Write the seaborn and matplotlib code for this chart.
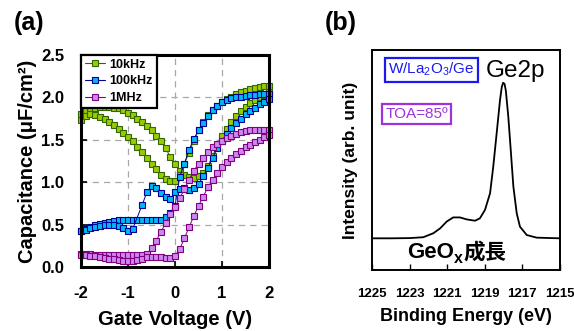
import pandas as pd
import matplotlib
matplotlib.use('Agg')
import matplotlib.pyplot as plt
import seaborn as sns
from matplotlib.lines import Line2D

# ---- (a) C-V data: two sweeps per frequency ----
volts = [-2.0, -1.9, -1.8, -1.7, -1.6, -1.5, -1.4, -1.3, -1.2, -1.1, -1.0,
         -0.9, -0.8, -0.7, -0.6, -0.5, -0.4, -0.3, -0.2, -0.1, 0.0,
         0.1, 0.2, 0.3, 0.4, 0.5, 0.6, 0.7, 0.8, 0.9, 1.0,
         1.1, 1.2, 1.3, 1.4, 1.5, 1.6, 1.7, 1.8, 1.9, 2.0]
# 100kHz second sweep has no point at -0.8 V
volts_gap = [-2.0, -1.9, -1.8, -1.7, -1.6, -1.5, -1.4, -1.3, -1.2, -1.1, -1.0,
             -0.9, -0.7, -0.6, -0.5, -0.4, -0.3, -0.2, -0.1, 0.0,
             0.1, 0.2, 0.3, 0.4, 0.5, 0.6, 0.7, 0.8, 0.9, 1.0,
             1.1, 1.2, 1.3, 1.4, 1.5, 1.6, 1.7, 1.8, 1.9, 2.0]

c_10k_a = [1.81, 1.85, 1.87, 1.88, 1.89, 1.89, 1.89, 1.88, 1.87, 1.85, 1.82,
           1.79, 1.75, 1.71, 1.66, 1.61, 1.55, 1.48, 1.40, 1.30, 1.21,
           1.13, 1.08, 1.06, 1.05, 1.07, 1.11, 1.19, 1.31, 1.43, 1.54,
           1.63, 1.71, 1.78, 1.84, 1.89, 1.93, 1.97, 2.00, 2.03, 2.06]
c_10k_b = [1.73, 1.78, 1.80, 1.79, 1.77, 1.74, 1.71, 1.67, 1.63, 1.58, 1.53,
           1.48, 1.42, 1.36, 1.29, 1.22, 1.15, 1.09, 1.04, 1.01, 1.01,
           1.08, 1.22, 1.35, 1.49, 1.61, 1.71, 1.79, 1.85, 1.90, 1.94,
           1.98, 2.01, 2.04, 2.06, 2.08, 2.10, 2.11, 2.12, 2.13, 2.14]
c_100k_a = [0.43, 0.45, 0.47, 0.49, 0.51, 0.52, 0.53, 0.54, 0.55, 0.55, 0.55,
            0.55, 0.56, 0.56, 0.56, 0.55, 0.55, 0.56, 0.59, 0.64, 0.72,
            1.06, 1.22, 1.38, 1.51, 1.61, 1.70, 1.78, 1.85, 1.90, 1.94,
            1.97, 1.99, 2.00, 2.01, 2.02, 2.03, 2.03, 2.04, 2.04, 2.04]
c_100k_b = [0.43, 0.44, 0.46, 0.47, 0.48, 0.49, 0.49, 0.49, 0.48, 0.46, 0.43,
            0.45, 0.73, 0.88, 0.95, 0.93, 0.87, 0.82, 0.80, 0.88,
            0.92, 0.93, 0.91, 0.93, 0.98, 1.07, 1.17, 1.29, 1.40, 1.49,
            1.57, 1.64, 1.70, 1.75, 1.80, 1.84, 1.88, 1.92, 1.95, 1.98]
c_1m_a = [0.15, 0.15, 0.15, 0.14, 0.14, 0.14, 0.14, 0.14, 0.14, 0.14, 0.14,
          0.14, 0.14, 0.14, 0.15, 0.22, 0.31, 0.41, 0.52, 0.62, 0.71,
          0.81, 0.92, 1.03, 1.13, 1.22, 1.29, 1.36, 1.41, 1.45, 1.49,
          1.52, 1.55, 1.57, 1.59, 1.60, 1.61, 1.61, 1.62, 1.62, 1.62]
c_1m_b = [0.14, 0.14, 0.13, 0.13, 0.12, 0.11, 0.10, 0.09, 0.08, 0.07, 0.065,
          0.07, 0.08, 0.10, 0.12, 0.12, 0.12, 0.12, 0.11, 0.11, 0.13,
          0.21, 0.34, 0.47, 0.60, 0.72, 0.83, 0.94, 1.03, 1.11, 1.18,
          1.24, 1.29, 1.33, 1.37, 1.41, 1.44, 1.47, 1.50, 1.53, 1.56]

freq_labels = ['10kHz', '100kHz', '1MHz']

# ---- (b) Ge2p spectrum ----
energy = [1225.0, 1224.0, 1223.0, 1222.27, 1221.74, 1221.38, 1221.03, 1220.68,
          1220.32, 1219.96, 1219.52, 1219.26, 1218.99, 1218.72, 1218.55, 1218.37,
          1218.19, 1218.10, 1218.03, 1217.95, 1217.88, 1217.75, 1217.62, 1217.48,
          1217.30, 1217.13, 1216.77, 1216.24, 1215.0]
intensity = [0.144, 0.144, 0.145, 0.149, 0.167, 0.189, 0.220, 0.239,
             0.239, 0.230, 0.224, 0.235, 0.273, 0.349, 0.470, 0.621,
             0.773, 0.830, 0.851, 0.846, 0.815, 0.697, 0.545, 0.379,
             0.257, 0.197, 0.159, 0.147, 0.144]
energy_ticks = [1225, 1223, 1221, 1219, 1217, 1215]

sns.set_style('ticks')
plt.rcParams['font.family'] = ['Liberation Sans', 'DejaVu Sans']
plt.rcParams['mathtext.fontset'] = 'custom'
plt.rcParams['mathtext.rm'] = 'Liberation Sans'
plt.rcParams['mathtext.it'] = 'Liberation Sans:italic'
plt.rcParams['mathtext.bf'] = 'Liberation Sans:bold'
plt.rcParams['axes.unicode_minus'] = False
for key in ['text.color', 'axes.labelcolor', 'xtick.color', 'ytick.color']:
    plt.rcParams[key] = 'black'

cv = pd.concat([
    pd.DataFrame({'V': volts, 'C': c_10k_a, 'freq': '10kHz', 'sweep': 0}),
    pd.DataFrame({'V': volts, 'C': c_10k_b, 'freq': '10kHz', 'sweep': 1}),
    pd.DataFrame({'V': volts, 'C': c_100k_a, 'freq': '100kHz', 'sweep': 0}),
    pd.DataFrame({'V': volts_gap, 'C': c_100k_b, 'freq': '100kHz', 'sweep': 1}),
    pd.DataFrame({'V': volts, 'C': c_1m_a, 'freq': '1MHz', 'sweep': 0}),
    pd.DataFrame({'V': volts, 'C': c_1m_b, 'freq': '1MHz', 'sweep': 1}),
], ignore_index=True)

fills = {'10kHz': '#99cc00', '100kHz': '#00b8f0', '1MHz': '#cc88ee'}
edges = {'10kHz': '#336600', '100kHz': '#000099', '1MHz': '#800080'}

fig = plt.figure(figsize=(5.74, 3.31), dpi=100)
ax1 = fig.add_axes([81 / 574, 64 / 331, 188 / 574, 212 / 331])
ax2 = fig.add_axes([372 / 574, 61 / 331, 188 / 574, 220 / 331])

# panel (a)
for f in freq_labels:
    sns.lineplot(data=cv[cv['freq'] == f], x='V', y='C', units='sweep',
                 estimator=None, sort=False, ax=ax1, color=edges[f], lw=0.7,
                 marker='s', markersize=4.8, markerfacecolor=fills[f],
                 markeredgecolor=edges[f], markeredgewidth=0.8,
                 clip_on=False, legend=False, zorder=3)

ax1.set_xlim(-2, 2)
ax1.set_ylim(0, 2.5)
ax1.set_xticks([-2, -1, 0, 1, 2])
ax1.set_yticks([0, 0.5, 1.0, 1.5, 2.0, 2.5])
ax1.set_yticklabels(['0.0', '0.5', '1.0', '1.5', '2.0', '2.5'])
ax1.grid(True, ls=(0, (5, 4)), color='#a8a8a8', lw=0.9)
ax1.tick_params(direction='in', length=4, width=1.2, labelsize=12)
ax1.tick_params(axis='x', pad=14)
ax1.tick_params(axis='y', pad=12)
for lab in ax1.get_xticklabels() + ax1.get_yticklabels():
    lab.set_fontweight('bold')
for s in ax1.spines.values():
    s.set_linewidth(2.2)
    s.set_color('black')
    s.set_zorder(4)
ax1.set_xlabel('Gate Voltage (V)', fontsize=14.5, fontweight='bold', labelpad=6)
ax1.set_ylabel('Capacitance (μF/cm²)', fontsize=14.5, fontweight='bold', labelpad=3)

handles = [Line2D([], [], color=edges[f], lw=0.8, marker='s', ms=4.8,
                  mfc=fills[f], mec=edges[f], mew=0.8) for f in freq_labels]
leg = ax1.legend(handles, freq_labels, loc='upper left', bbox_to_anchor=(0, 1),
                 borderaxespad=0, fancybox=False, framealpha=1, edgecolor='black',
                 prop={'weight': 'bold', 'size': 9}, handlelength=1.6,
                 labelspacing=0.38, borderpad=0.3, handletextpad=0.4)
leg.get_frame().set_linewidth(1.6)
leg.set_zorder(5)

fig.text(14 / 574, 1 - 23 / 331, '(a)', fontsize=18, fontweight='bold',
         ha='left', va='center')
fig.text(325 / 574, 1 - 23 / 331, '(b)', fontsize=18, fontweight='bold',
         ha='left', va='center')

# panel (b)
sns.lineplot(x=energy, y=intensity, sort=False, ax=ax2, color='black', lw=1.3)
ax2.set_xlim(1225, 1215)
ax2.set_ylim(0, 1)
ax2.set_xticks(energy_ticks)
ax2.set_xticklabels([str(e) for e in energy_ticks], fontweight='bold')
ax2.set_yticks([])
ax2.tick_params(axis='x', direction='in', length=4, width=1, pad=13, labelsize=9.5)
for s in ax2.spines.values():
    s.set_linewidth(1.4)
    s.set_color('black')
ax2.set_xlabel('Binding Energy (eV)', fontsize=13, fontweight='bold', labelpad=6)
ax2.set_ylabel('Intensity (arb. unit)', fontsize=12.5, fontweight='bold', labelpad=10)

ax2.text(0.316, 0.911, r'W/La$_2$O$_3$/Ge', transform=ax2.transAxes, ha='center',
         va='center', fontsize=11, color='#1a1aee',
         bbox=dict(boxstyle='square,pad=0.22', fc='white', ec='#1a1aee', lw=1.6))
ax2.text(0.765, 0.905, 'Ge2p', transform=ax2.transAxes, ha='center', va='center',
         fontsize=17.5, color='black')
ax2.text(0.237, 0.709, 'TOA=85º', transform=ax2.transAxes, ha='center',
         va='center', fontsize=11, color='#a030e0',
         bbox=dict(boxstyle='square,pad=0.22', fc='white', ec='#a030e0', lw=1.6))

t1 = ax2.text(0.186, 0.055, 'GeO', transform=ax2.transAxes, ha='left',
              va='baseline', fontsize=16, fontweight='bold')
t2 = ax2.annotate('x', xy=(1, 0), xycoords=t1, xytext=(0.3, -2),
                  textcoords='offset points', ha='left', va='bottom',
                  fontsize=11.5, fontweight='bold')
ax2.annotate('成長', xy=(1, 0), xycoords=(t2, t1), xytext=(0.3, 0),
             textcoords='offset points', ha='left', va='bottom', fontsize=15.5,
             fontweight='bold', family=['Noto Sans CJK JP', 'DejaVu Sans'])

fig.savefig('out.png', dpi=100)
